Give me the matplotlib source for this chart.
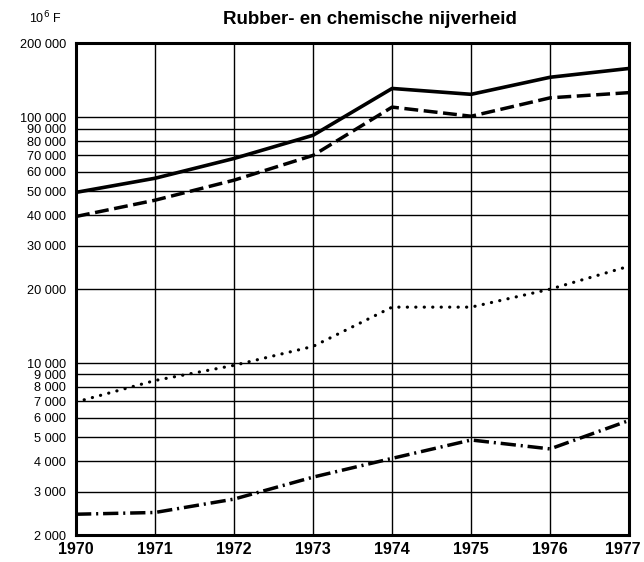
# Rubber- en chemische nijverheid, log chart 1970-1977
import matplotlib.pyplot as plt
import matplotlib.transforms as mtrans
from matplotlib.ticker import FixedLocator, FixedFormatter, NullLocator

plt.rcParams['font.family'] = ['Liberation Sans', 'DejaVu Sans']

years = [1970, 1971, 1972, 1973, 1974, 1975, 1976, 1977]

# values in 10^6 F
solid = [49500, 56500, 68000, 84500, 131000, 124000, 145500, 158000]
dashed = [39500, 46000, 55500, 70000, 110000, 101000, 120000, 126000]
dotted = [6950, 8500, 9800, 11700, 16900, 16900, 20000, 24800]
dashdot = [2430, 2470, 2800, 3440, 4100, 4870, 4480, 5850]

ytick_vals = [2000, 3000, 4000, 5000, 6000, 7000, 8000, 9000, 10000,
              20000, 30000, 40000, 50000, 60000, 70000, 80000, 90000,
              100000, 200000]
ytick_labels = ['2 000', '3 000', '4 000', '5 000', '6 000', '7 000', '8 000',
                '9 000', '10 000', '20 000', '30 000', '40 000', '50 000',
                '60 000', '70 000', '80 000', '90 000', '100 000', '200 000']

fig = plt.figure(figsize=(6.44, 5.62), dpi=100)
ax = fig.add_axes([0.118, 0.048, 0.859, 0.875])

ax.set_yscale('log')
ax.set_xlim(1970, 1977)
ax.set_ylim(2000, 200000)

ax.plot(years, solid, color='black', lw=2.6, solid_capstyle='butt', zorder=3)
ax.plot(years, dashed, color='black', lw=2.5, linestyle=(0, (4.0, 1.6)), zorder=3)
ax.plot(years, dotted, color='black', lw=2.3, linestyle=(0, (0.05, 2.6)),
        dash_capstyle='round', zorder=3)
ax.plot(years, dashdot, color='black', lw=2.5,
        linestyle=(0, (4.4, 1.4, 0.6, 1.4)), zorder=3)

ax.yaxis.set_major_locator(FixedLocator(ytick_vals))
ax.yaxis.set_major_formatter(FixedFormatter(ytick_labels))
ax.yaxis.set_minor_locator(NullLocator())
ax.set_xticks(years)
ax.set_xticklabels([str(y) for y in years])

ax.grid(True, which='major', color='black', lw=1.0)
ax.tick_params(length=0, pad=7)
ax.tick_params(axis='y', labelsize=9.2)
ax.tick_params(axis='x', labelsize=11.5, pad=5)
for lab in ax.get_xticklabels():
    lab.set_fontweight('bold')
# keep the last year label inside the figure
last = ax.get_xticklabels()[-1]
last.set_transform(last.get_transform() +
                   mtrans.ScaledTranslation(-0.06, 0, fig.dpi_scale_trans))

for sp in ax.spines.values():
    sp.set_linewidth(2.2)

fig.text(0.575, 0.965, 'Rubber- en chemische nijverheid', ha='center',
         va='center', fontsize=13.5, fontweight='bold')
fig.text(0.07, 0.968, '10$^6$ F', ha='center', va='center', fontsize=9)

plt.savefig('out.png', dpi=100)
